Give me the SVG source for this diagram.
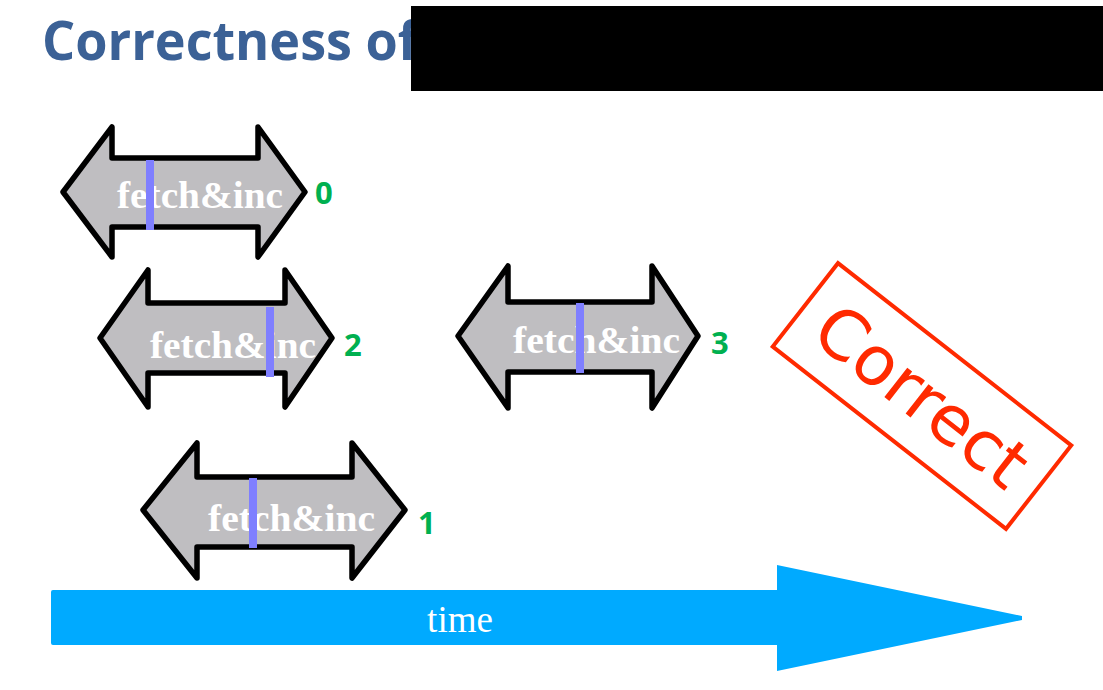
<svg xmlns="http://www.w3.org/2000/svg" width="1103" height="690" viewBox="0 0 1103 690">
  <style>
    .op { fill: #bfbec1; stroke: #000; stroke-width: 5.5; stroke-linejoin: round; }
    .lbl { font-family: "Liberation Serif", "Times New Roman", serif; font-weight: bold; font-size: 38px; fill: #ffffff; }
    .bar { fill: #7f7fff; }
    .num { font-family: "Open Sans", "Liberation Sans", sans-serif; font-weight: bold; font-size: 31px; fill: #00b050; }
  </style>

  <rect width="1103" height="690" fill="#ffffff"/>

  <!-- title -->
  <text x="42" y="60" font-family="Open Sans, Liberation Sans, sans-serif" font-weight="bold" font-size="54" fill="#3b6196" textLength="376" lengthAdjust="spacingAndGlyphs">Correctness of</text>
  <rect x="411" y="6" width="692" height="85" fill="#000000"/>

  <!-- operation 0 -->
  <g id="op0">
    <path class="op" d="M63,192 L112,127 L112,158 L258,158 L258,127 L305,192 L258,257 L258,227 L112,227 L112,257 Z"/>
    <text class="lbl" x="117" y="208" textLength="166" lengthAdjust="spacingAndGlyphs">fetch&amp;inc</text>
    <rect class="bar" x="146" y="160" width="8" height="70"/>
    <text class="num" x="315" y="204">0</text>
  </g>

  <!-- operation 2 -->
  <g id="op2">
    <path class="op" d="M100,338 L148,270 L148,303 L285,303 L285,270 L332,338 L285,407 L285,373 L148,373 L148,407 Z"/>
    <text class="lbl" x="150" y="358" textLength="166" lengthAdjust="spacingAndGlyphs">fetch&amp;inc</text>
    <rect class="bar" x="266" y="307" width="8" height="70"/>
    <text class="num" x="344" y="356">2</text>
  </g>

  <!-- operation 3 -->
  <g id="op3">
    <path class="op" d="M458,336 L508,266 L508,302 L652,302 L652,266 L698,336 L652,408 L652,372 L508,372 L508,408 Z"/>
    <text class="lbl" x="513" y="353" textLength="167" lengthAdjust="spacingAndGlyphs">fetch&amp;inc</text>
    <rect class="bar" x="576" y="303" width="8" height="70"/>
    <text class="num" x="711" y="354">3</text>
  </g>

  <!-- operation 1 -->
  <g id="op1">
    <path class="op" d="M143,510 L197,443 L197,477 L352,477 L352,443 L405,510 L352,578 L352,547 L197,547 L197,578 Z"/>
    <text class="lbl" x="208" y="531" textLength="167" lengthAdjust="spacingAndGlyphs">fetch&amp;inc</text>
    <rect class="bar" x="249" y="478" width="8" height="70"/>
    <text class="num" x="418" y="534">1</text>
  </g>

  <!-- time axis -->
  <g id="time">
    <path d="M53,590 L777,590 L777,565 L1022,616 L1022,620 L777,671 L777,645 L53,645 Q51,645 51,643 L51,592 Q51,590 53,590 Z" fill="#00aaff"/>
    <text x="460" y="632" text-anchor="middle" font-family="Liberation Serif, Times New Roman, serif" font-size="37" fill="#ffffff">time</text>
  </g>

  <!-- verdict stamp -->
  <g id="stamp" transform="translate(922,396) rotate(38)">
    <rect x="-148" y="-53" width="296" height="106" fill="none" stroke="#ff2a00" stroke-width="4"/>
    <text x="0" y="24" text-anchor="middle" font-family="DejaVu Sans, sans-serif" font-size="68" fill="#ff2a00" textLength="250" lengthAdjust="spacingAndGlyphs">Correct</text>
  </g>
</svg>
